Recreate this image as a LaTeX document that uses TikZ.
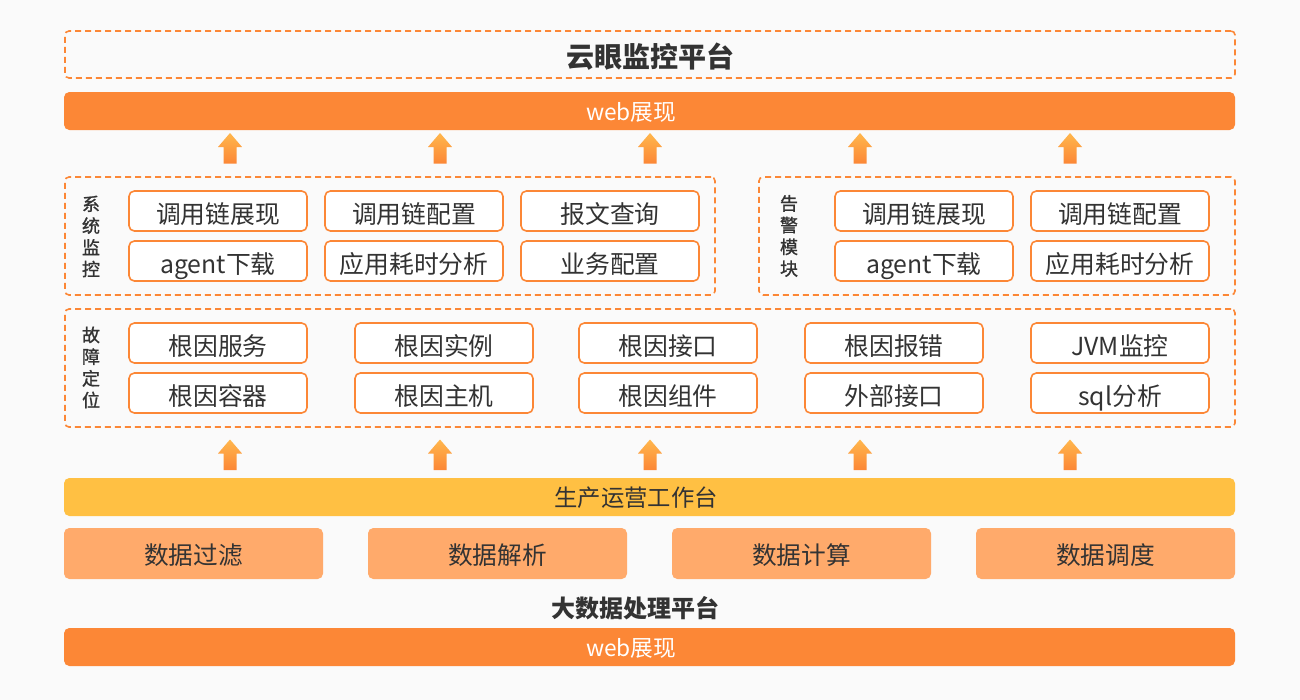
\documentclass[tikz,border=0pt]{standalone}
\usepackage{fontspec}
\setmainfont{Noto Sans CJK SC}
\newfontfamily\sidefont{Noto Sans CJK SC}[FakeBold=1.2]
\definecolor{bg}{HTML}{FAFAFA}
\definecolor{orng}{HTML}{FC8736}
\definecolor{ylw}{HTML}{FFC043}
\definecolor{lorng}{HTML}{FFAA6B}
\definecolor{arrtop}{HTML}{FFB74D}
\definecolor{txt}{HTML}{333333}
\tikzset{
  frame/.style={draw=orng, line width=1.2pt, dash pattern=on 4.5pt off 3pt, rounded corners=3pt, inner sep=0pt},
  ibox/.style={draw=orng, line width=1.2pt, rounded corners=4pt, fill=white, text=txt,
    font=\fontsize{18.6}{20}\selectfont, minimum width=133.5pt, minimum height=30pt, inner sep=0pt,
    text height=18.2pt, text depth=0pt},
  bar/.style={fill=orng, rounded corners=4pt, minimum width=878.25pt, minimum height=28.5pt, inner sep=0pt},
  bartxt/.style={text=white, font=\fontsize{17}{20}\selectfont, inner sep=0pt},
  ybar/.style={fill=ylw, rounded corners=4pt, minimum width=878.25pt, minimum height=28.5pt, inner sep=0pt},
  ybartxt/.style={text=txt, font=\fontsize{17.5}{20}\selectfont, inner sep=0pt},
  dbox/.style={fill=lorng, rounded corners=4pt, text=txt, font=\fontsize{18.5}{20}\selectfont,
    minimum width=194.25pt, minimum height=38.25pt, inner sep=0pt, text height=17pt, text depth=0pt},
  side/.style={text=txt, font=\sidefont\fontsize{13.5}{16.3}\selectfont, align=center, inner sep=0pt},
  upar/.style={top color=arrtop, bottom color=orng, draw=none}
}
\newcommand{\uparr}[3]{% name, x, tip y
  \shade[upar] (#2,#3) -- (#2+12,#3+14) -- (#2+6.5,#3+14) -- (#2+6.5,#3+30.5)
    -- (#2-6.5,#3+30.5) -- (#2-6.5,#3+14) -- (#2-12,#3+14) -- cycle;
  \coordinate (#1) at (#2,#3);
}
\begin{document}
\begin{tikzpicture}[x=0.75pt,y=-0.75pt]
\useasboundingbox (0,0) rectangle (1300,700);
\fill[bg] (0,0) rectangle (1300,700);

% top title frame
\node[frame, minimum width=877.5pt, minimum height=35.25pt] (topf) at (650,54.5) {};
\node[text=txt, font=\fontsize{21}{24}\selectfont\bfseries] (title) at (650,56.5) {云眼监控平台};

% web bar top
\node[bar] (web1) at (649.5,111) {};
\node[bartxt] (web1t) at (631,112) {web展现};

% arrows top
\foreach \i/\x in {1/230,2/440,3/650,4/860,5/1070}{ \uparr{ta\i}{\x}{133} }

% system monitoring frame
\node[frame, minimum width=487.5pt, minimum height=88.5pt] (sysf) at (390,236) {};
\node[side] (syslbl) at (91,236.5) {系\\统\\监\\控};
\node[ibox] (s1) at (218,211) {调用链展现};
\node[ibox] (s2) at (414,211) {调用链配置};
\node[ibox] (s3) at (610,211) {报文查询};
\node[ibox] (s4) at (218,261) {agent下载};
\node[ibox] (s5) at (414,261) {应用耗时分析};
\node[ibox] (s6) at (610,261) {业务配置};

% alert frame
\node[frame, minimum width=357pt, minimum height=88.5pt] (alf) at (997,236) {};
\node[side] (allbl) at (789,236) {告\\警\\模\\块};
\node[ibox] (a1) at (924,211) {调用链展现};
\node[ibox] (a2) at (1120,211) {调用链配置};
\node[ibox] (a3) at (924,261) {agent下载};
\node[ibox] (a4) at (1120,261) {应用耗时分析};

% fault frame
\node[frame, minimum width=877.5pt, minimum height=88.5pt] (fltf) at (650,368) {};
\node[side] (fltlbl) at (91,367.5) {故\\障\\定\\位};
\node[ibox] (f1) at (218,343) {根因服务};
\node[ibox] (f2) at (444,343) {根因实例};
\node[ibox] (f3) at (668,343) {根因接口};
\node[ibox] (f4) at (894,343) {根因报错};
\node[ibox] (f5) at (1120,343) {JVM监控};
\node[ibox] (f6) at (218,393) {根因容器};
\node[ibox] (f7) at (444,393) {根因主机};
\node[ibox] (f8) at (668,393) {根因组件};
\node[ibox] (f9) at (894,393) {外部接口};
\node[ibox] (f10) at (1120,393) {sql分析};

% arrows bottom
\foreach \i/\x in {1/230,2/440,3/650,4/860,5/1070}{ \uparr{ba\i}{\x}{439.5} }

% yellow bar
\node[ybar] (prod) at (649.5,497) {};
\node[ybartxt] (prodt) at (636,497.5) {生产运营工作台};

% data boxes
\node[dbox] (d1) at (193.5,553.5) {数据过滤};
\node[dbox] (d2) at (497.5,553.5) {数据解析};
\node[dbox] (d3) at (801.5,553.5) {数据计算};
\node[dbox] (d4) at (1105.5,553.5) {数据调度};

\node[text=txt, font=\fontsize{18}{20}\selectfont\bfseries] (bigdata) at (635,608) {大数据处理平台};

% web bar bottom
\node[bar] (web2) at (649.5,647) {};
\node[bartxt] (web2t) at (631,648.5) {web展现};
\end{tikzpicture}
\end{document}
